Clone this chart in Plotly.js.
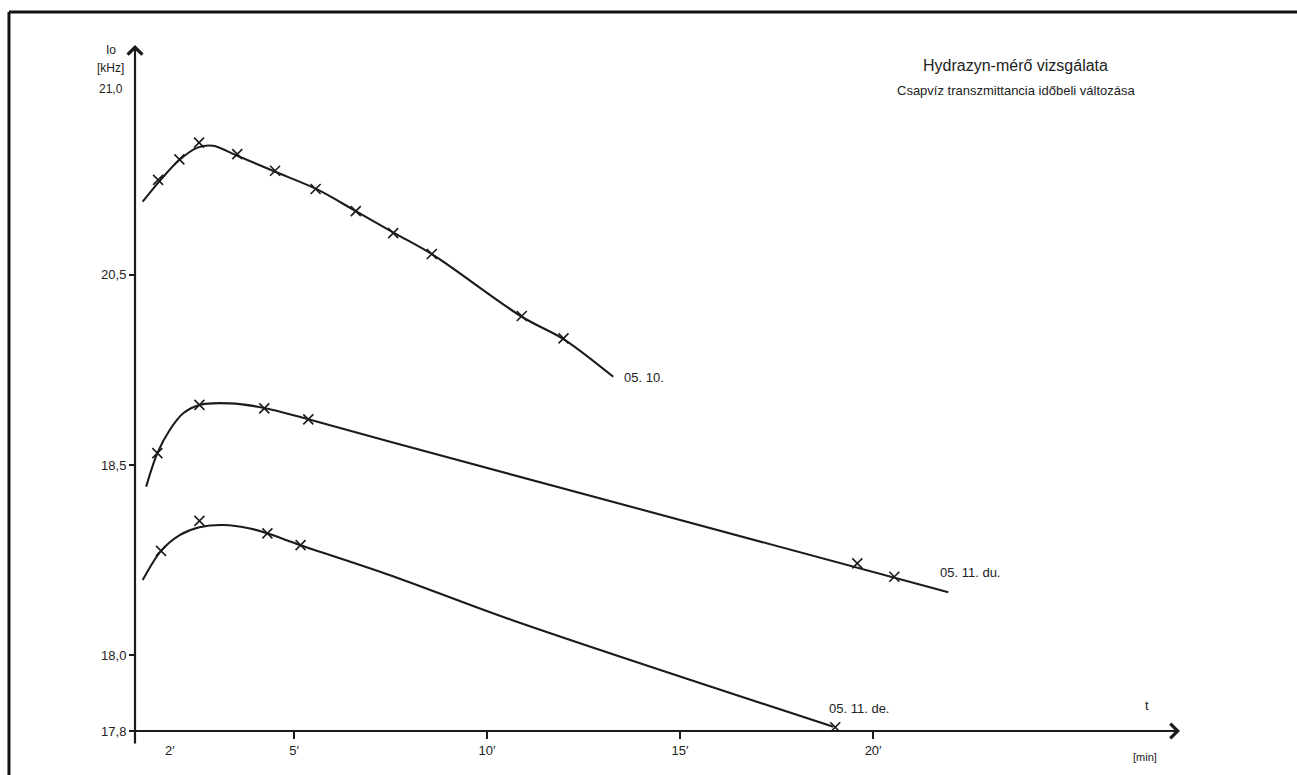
<!DOCTYPE html>
<html>
<head>
<meta charset="utf-8">
<script src="https://cdn.plot.ly/plotly-3.0.1.min.js"></script>
<style>html,body{margin:0;padding:0;background:#fff;}#chart{width:1297px;height:775px;}</style>
</head>
<body>
<div id="chart"></div>
<script>
// ---- data (time in minutes, Io in kHz) ----
// 05. 10. series (upper, broken-axis segment)
const s1MarkT = [1.48, 2.03, 2.54, 3.53, 4.51, 5.56, 6.60, 7.57, 8.57, 10.90, 11.98];
const s1MarkV = [20.750, 20.804, 20.848, 20.818, 20.774, 20.726, 20.668, 20.610, 20.555, 20.392, 20.333];
const s1CurveT = [1.08, 1.5, 2.0, 2.5, 2.9, 3.5, 4.5, 5.6, 6.6, 7.6, 8.6, 10.9, 12.0, 13.27];
const s1CurveV = [20.693, 20.745, 20.800, 20.835, 20.840, 20.815, 20.772, 20.725, 20.668, 20.610, 20.553, 20.390, 20.330, 20.232];

// 05. 11. du. series
const s2MarkT = [1.46, 2.55, 4.23, 5.37, 19.59, 20.55];
const s2MarkV = [18.531, 18.658, 18.649, 18.620, 18.241, 18.206];
const s2CurveT = [1.17, 1.46, 1.78, 2.13, 2.55, 3.34, 4.23, 5.37, 7.49, 21.95];
const s2CurveV = [18.443, 18.531, 18.592, 18.636, 18.658, 18.662, 18.650, 18.620, 18.561, 18.165];

// 05. 11. de. series
const s3MarkT = [1.555, 2.55, 4.31, 5.17, 19.02];
const s3MarkV = [18.274, 18.353, 18.320, 18.289, 17.810];
const s3CurveT = [1.08, 1.555, 2.05, 2.55, 3.17, 3.86, 4.31, 5.17, 7.49, 10.64, 18.97];
const s3CurveV = [18.197, 18.274, 18.316, 18.336, 18.342, 18.333, 18.320, 18.289, 18.210, 18.092, 17.811];

const seriesLabels = ['05. 10.', '05. 11. du.', '05. 11. de.'];
const xTickVals = [5, 10, 15, 20];
const xTickText = ['5\u2032', '10\u2032', '15\u2032', '20\u2032'];
const yLowTickVals = [17.8, 18.0, 18.5];
const yLowTickText = ['17,8', '18,0', '18,5'];
const yHighTickVals = [20.5];
const yHighTickText = ['20,5'];

// ---- drawing ----
const ink = '#1b1b1b';
const FONT = 'Liberation Sans, Arial, sans-serif';

function curve(t, v, yaxis) {
  return {x: t, y: v, yaxis: yaxis, mode: 'lines', type: 'scatter', hoverinfo: 'skip',
          line: {color: ink, width: 2.1, shape: 'spline', smoothing: 0.9}, showlegend: false};
}
function marks(t, v, yaxis) {
  return {x: t, y: v, yaxis: yaxis, mode: 'markers', type: 'scatter',
          marker: {symbol: 'x-thin', size: 10, color: ink, line: {color: ink, width: 1.6}}, showlegend: false};
}

const traces = [
  curve(s1CurveT, s1CurveV, 'y2'), marks(s1MarkT, s1MarkV, 'y2'),
  curve(s2CurveT, s2CurveV, 'y'), marks(s2MarkT, s2MarkV, 'y'),
  curve(s3CurveT, s3CurveV, 'y'), marks(s3MarkT, s3MarkV, 'y')
];

const lowRange = [17.8, 19.605];
const breakOffset = 1.5; // upper segment shifted by the axis break
const highRange = [lowRange[0] + breakOffset, lowRange[1] + breakOffset];

const txt = (size) => ({family: FONT, size: size, color: '#222'});
const tickFont = {family: FONT, size: 13, color: '#222'};

const layout = {
  width: 1297, height: 775,
  margin: {l: 135, r: 117, t: 45, b: 44},
  paper_bgcolor: '#fff', plot_bgcolor: '#fff',
  showlegend: false,
  font: {family: FONT, size: 12, color: '#222'},
  xaxis: {range: [0.881, 27.95], tickvals: xTickVals, ticktext: xTickText,
          ticks: 'outside', ticklen: 7, tickwidth: 2, tickcolor: ink,
          showgrid: false, zeroline: false, showline: false, tickfont: tickFont},
  yaxis: {range: lowRange, tickvals: yLowTickVals, ticktext: yLowTickText,
          ticks: 'outside', ticklen: 5, tickwidth: 2, tickcolor: ink,
          showgrid: false, zeroline: false, showline: false, tickfont: tickFont},
  yaxis2: {range: highRange, overlaying: 'y', side: 'left', anchor: 'x',
           tickvals: yHighTickVals, ticktext: yHighTickText,
           ticks: 'outside', ticklen: 5, tickwidth: 2, tickcolor: ink,
           showgrid: false, zeroline: false, showline: false, tickfont: tickFont},
  shapes: [
    {type: 'line', xref: 'paper', yref: 'paper', x0: -0.1206, x1: -0.1206, y0: -0.07, y1: 1.0481,
     line: {color: '#111', width: 3}},
    {type: 'line', xref: 'paper', yref: 'paper', x0: -0.1206, x1: 1.12, y0: 1.0481, y1: 1.0481,
     line: {color: '#111', width: 3}}
  ],
  annotations: [
    // axes drawn as arrows
    {xref: 'paper', yref: 'paper', x: 0, y: 1, ax: 0, ay: 700, axref: 'pixel', ayref: 'pixel',
     text: '', showarrow: true, arrowhead: 4, arrowsize: 1.3, arrowwidth: 2.2, arrowcolor: ink, standoff: 0},
    {xref: 'paper', yref: 'paper', x: 1, y: 0, ax: -1050, ay: 0, axref: 'pixel', ayref: 'pixel',
     text: '', showarrow: true, arrowhead: 4, arrowsize: 1.3, arrowwidth: 2.2, arrowcolor: ink, standoff: 0},
    // axis titles
    {xref: 'paper', yref: 'paper', x: -0.023, y: 0.9928, xanchor: 'center', yanchor: 'middle', text: 'Io', showarrow: false, font: txt(12)},
    {xref: 'paper', yref: 'paper', x: -0.023, y: 0.9665, xanchor: 'center', yanchor: 'middle', text: '[kHz]', showarrow: false, font: txt(12)},
    {xref: 'paper', yref: 'y2', x: -0.023, y: 20.99, xanchor: 'center', yanchor: 'middle', text: '21,0', showarrow: false, font: txt(12)},
    {xref: 'x', yref: 'paper', x: 1.79, y: -0.0277, xanchor: 'center', yanchor: 'middle', text: '2\u2032', showarrow: false, font: txt(13)},
    {xref: 'paper', yref: 'paper', x: 0.968, y: 0.0379, xanchor: 'center', yanchor: 'middle', text: 't', showarrow: false, font: txt(13)},
    {xref: 'paper', yref: 'paper', x: 0.9665, y: -0.0375, xanchor: 'center', yanchor: 'middle', text: '[min]', showarrow: false, font: txt(11)},
    // titles
    {xref: 'paper', yref: 'paper', x: 0.843, y: 0.9694, xanchor: 'center', yanchor: 'middle', text: 'Hydrazyn-mérő vizsgálata', showarrow: false, font: txt(16)},
    {xref: 'paper', yref: 'paper', x: 0.843, y: 0.9344, xanchor: 'center', yanchor: 'middle', text: 'Csapvíz transzmittancia időbeli változása', showarrow: false, font: txt(13)},
    // series labels
    {xref: 'x', yref: 'y2', x: 13.49, y: 20.229, xanchor: 'left', yanchor: 'middle', text: seriesLabels[0], showarrow: false, font: txt(13)},
    {xref: 'x', yref: 'y', x: 21.69, y: 18.217, xanchor: 'left', yanchor: 'middle', text: seriesLabels[1], showarrow: false, font: txt(13)},
    {xref: 'x', yref: 'y', x: 18.80, y: 17.86, xanchor: 'left', yanchor: 'middle', text: seriesLabels[2], showarrow: false, font: txt(13)}
  ]
};

Plotly.newPlot('chart', traces, layout, {staticPlot: true, displayModeBar: false});
</script>
</body>
</html>
